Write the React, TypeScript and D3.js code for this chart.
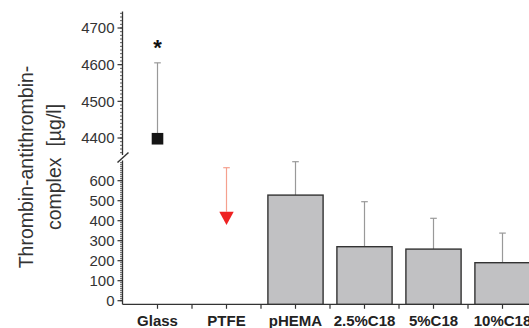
import React, { useEffect, useRef } from 'react';
import * as d3 from 'd3';

const categories = ['Glass', 'PTFE', 'pHEMA', '2.5%C18', '5%C18', '10%C18'];
const meanValues = [4398, 420, 528, 270, 258, 190];
const errorValues = [207, 245, 167, 225, 154, 148];
const markerTypes = ['square', 'triangle', 'bar', 'bar', 'bar', 'bar'];
const upperTicks = [4400, 4500, 4600, 4700];
const lowerTicks = [0, 100, 200, 300, 400, 500, 600];

const App: React.FC = () => {
    const svgRef = useRef<SVGSVGElement>(null);

    useEffect(() => {
        const svg = d3.select(svgRef.current);
        svg.selectAll('*').remove();

        const width = 529;
        const height = 328;
        const axisX = 122.5;
        const baseY = 304.3;
        const font = 'Liberation Sans, Arial, sans-serif';

        svg.attr('width', width).attr('height', height);

        // scales
        const x = d3.scaleBand<string>()
            .domain(categories)
            .range([123, 537])
            .paddingInner(0.2)
            .paddingOuter(0.1);
        const cx = (c: string) => (x(c) || 0) + x.bandwidth() / 2;

        const yUp = d3.scaleLinear().domain([4400, 4700]).range([138, 28]);
        const yLo = d3.scaleLinear().domain([0, 600]).range([300.7, 180.7]);

        const ink = '#333';

        // y axis lines (with break)
        svg.append('line')
            .attr('x1', axisX).attr('x2', axisX)
            .attr('y1', yUp(4745)).attr('y2', 155)
            .attr('stroke', ink).attr('stroke-width', 1.3);
        svg.append('line')
            .attr('x1', axisX).attr('x2', axisX)
            .attr('y1', 160.5).attr('y2', baseY)
            .attr('stroke', ink).attr('stroke-width', 1.3);
        svg.append('line')
            .attr('x1', 117.5).attr('y1', 162.5)
            .attr('x2', 128.5).attr('y2', 152.5)
            .attr('stroke', ink).attr('stroke-width', 1.4);

        // minor ticks
        const upMinor = d3.range(4360, 4741, 10);
        svg.append('g').selectAll('line')
            .data(upMinor)
            .enter()
            .append('line')
            .attr('x1', axisX - 2.5).attr('x2', axisX)
            .attr('y1', d => yUp(d)).attr('y2', d => yUp(d))
            .attr('stroke', ink).attr('stroke-width', 0.8);
        const loMinor = d3.range(0, 691, 10);
        svg.append('g').selectAll('line')
            .data(loMinor)
            .enter()
            .append('line')
            .attr('x1', axisX - 2.5).attr('x2', axisX)
            .attr('y1', d => yLo(d)).attr('y2', d => yLo(d))
            .attr('stroke', ink).attr('stroke-width', 0.8);

        // major ticks + labels
        const drawMajor = (ticks: number[], s: d3.ScaleLinear<number, number>) => {
            const g = svg.append('g');
            g.selectAll('line')
                .data(ticks)
                .enter()
                .append('line')
                .attr('x1', axisX - 5).attr('x2', axisX)
                .attr('y1', d => s(d)).attr('y2', d => s(d))
                .attr('stroke', ink).attr('stroke-width', 1.2);
            g.selectAll('text')
                .data(ticks)
                .enter()
                .append('text')
                .attr('x', axisX - 8)
                .attr('y', d => s(d) + 5.3)
                .attr('text-anchor', 'end')
                .style('font-family', font)
                .style('font-size', '15px')
                .attr('fill', ink)
                .text(d => d);
        };
        drawMajor(upperTicks, yUp);
        drawMajor(lowerTicks, yLo);

        // x axis
        svg.append('line')
            .attr('x1', axisX).attr('x2', width)
            .attr('y1', baseY).attr('y2', baseY)
            .attr('stroke', ink).attr('stroke-width', 1.3);
        const step = x.step();
        const xTicks = categories.flatMap(c => [cx(c), cx(c) + step / 2]);
        svg.append('g').selectAll('line')
            .data(xTicks)
            .enter()
            .append('line')
            .attr('x1', d => d).attr('x2', d => d)
            .attr('y1', baseY).attr('y2', baseY + 4.5)
            .attr('stroke', ink).attr('stroke-width', 1.2);
        svg.append('g').selectAll('text')
            .data(categories)
            .enter()
            .append('text')
            .attr('x', d => cx(d))
            .attr('y', 326)
            .attr('text-anchor', 'middle')
            .style('font-family', font)
            .style('font-size', '15px')
            .style('font-weight', 'bold')
            .attr('fill', '#222')
            .text(d => d);

        // error bars
        const rows = categories.map((c, i) => ({
            c, mean: meanValues[i], err: errorValues[i], type: markerTypes[i],
        }));
        rows.forEach(r => {
            const s = r.type === 'square' ? yUp : yLo;
            const color = r.type === 'triangle' ? '#f5a08e' : '#999';
            const top = s(r.mean + r.err);
            const from = r.type === 'triangle' ? s(r.mean) - 5 : s(r.mean);
            svg.append('line')
                .attr('x1', cx(r.c)).attr('x2', cx(r.c))
                .attr('y1', from).attr('y2', top)
                .attr('stroke', color).attr('stroke-width', 1.2);
            svg.append('line')
                .attr('x1', cx(r.c) - 3.3).attr('x2', cx(r.c) + 3.3)
                .attr('y1', top).attr('y2', top)
                .attr('stroke', color).attr('stroke-width', 1.2);
        });

        // bars
        svg.append('g').selectAll('rect')
            .data(rows.filter(r => r.type === 'bar'))
            .enter()
            .append('rect')
            .attr('x', d => x(d.c) || 0)
            .attr('y', d => yLo(d.mean))
            .attr('width', x.bandwidth())
            .attr('height', d => baseY - yLo(d.mean))
            .attr('fill', '#c1c1c3')
            .attr('stroke', '#333')
            .attr('stroke-width', 1.4);

        // square marker
        rows.filter(r => r.type === 'square').forEach(r => {
            svg.append('rect')
                .attr('x', cx(r.c) - 5.8).attr('y', yUp(r.mean) - 5.8)
                .attr('width', 11.6).attr('height', 11.6)
                .attr('fill', '#151515');
            svg.append('text')
                .attr('x', cx(r.c))
                .attr('y', 55)
                .attr('text-anchor', 'middle')
                .style('font-family', font)
                .style('font-size', '22px')
                .style('font-weight', 'bold')
                .attr('fill', '#111')
                .text('*');
        });

        // triangle marker
        rows.filter(r => r.type === 'triangle').forEach(r => {
            const px = cx(r.c);
            const py = yLo(r.mean);
            svg.append('path')
                .attr('d', `M${px - 7.2},${py - 5} L${px + 7.2},${py - 5} L${px},${py + 8.3} Z`)
                .attr('fill', '#ee2222');
        });

        // y axis title
        const title = svg.append('text')
            .attr('transform', 'translate(33,167) rotate(-90)')
            .attr('text-anchor', 'middle')
            .style('font-family', font)
            .style('font-size', '19.5px')
            .attr('fill', ink);
        title.append('tspan').attr('x', 0).attr('y', 0).text('Thrombin-antithrombin-');
        title.append('tspan').attr('x', 0).attr('y', 28).attr('xml:space', 'preserve').text('complex  [µg/l]');
    }, []);

    return (
        <svg
            ref={svgRef}
            style={{ position: 'absolute', left: 0, top: 0, background: '#fff' }}
        ></svg>
    );
};

export default App;
